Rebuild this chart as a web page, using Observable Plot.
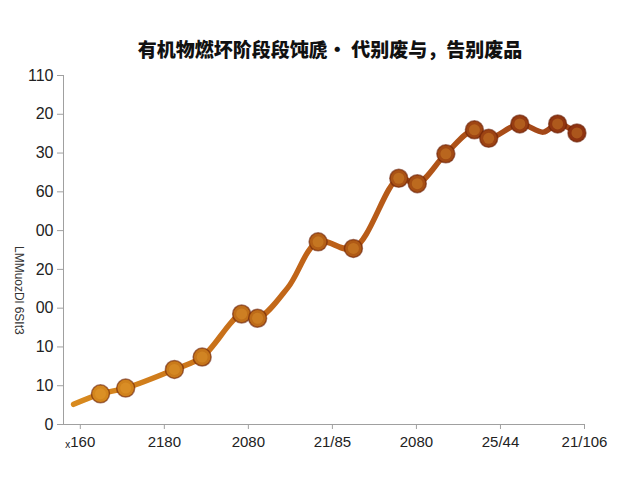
<!DOCTYPE html>
<html><head><meta charset="utf-8">
<script src="https://cdn.jsdelivr.net/npm/d3@7"></script>
<script src="https://cdn.jsdelivr.net/npm/@observablehq/plot@0.6"></script>
<style>body{margin:0;background:#fff}</style>
</head><body><div id="chart"></div>
<script>
const title = "有机物燃坏阶段段饨虒· 代别废与，告别废品";
const yLabel = "LMMuozDl 6SIt3";
const xTickValues = [0, 1, 2, 3, 4, 5, 6];
const xTickLabels = ["ₓ160", "2180", "2080", "21/85", "2080", "25/44", "21/106"];
const yTickValues = [0, 10, 20, 30, 40, 50, 60, 70, 80, 90];
const yTickLabels = ["0", "10", "10", "00", "20", "00", "60", "30", "20", "110"];

// path of the curve (all vertices)
const lineX = [-0.08, 0.24, 0.54, 1.12, 1.45, 1.92, 2.11, 2.47, 2.83, 3.25, 3.79, 4.01, 4.35, 4.69, 4.86, 5.23, 5.51, 5.68, 5.91];
const lineY = [5.2, 7.9, 9.4, 14.2, 17.4, 28.5, 27.4, 35.3, 47.1, 45.4, 63.5, 62.1, 69.8, 76.0, 73.8, 77.5, 75.4, 77.5, 75.2];
// marked points
const markX = [0.24, 0.54, 1.12, 1.45, 1.92, 2.11, 2.83, 3.25, 3.79, 4.01, 4.35, 4.69, 4.86, 5.23, 5.68, 5.91];
const markY = [7.9, 9.4, 14.2, 17.4, 28.5, 27.4, 47.1, 45.4, 63.5, 62.1, 69.8, 76.0, 73.8, 77.5, 77.5, 75.2];

const line = lineX.map((x, i) => ({x, y: lineY[i]}));
const marks = markX.map((x, i) => ({x, y: markY[i]}));

const defs = () => {
  const d = d3.create("svg:defs");
  const g = d.append("linearGradient").attr("id", "lineGrad");
  g.append("stop").attr("offset", "0%").attr("stop-color", "#d88a1e");
  g.append("stop").attr("offset", "45%").attr("stop-color", "#c06418");
  g.append("stop").attr("offset", "100%").attr("stop-color", "#a04418");
  return d.node();
};

const chart = Plot.plot({
  width: 640,
  height: 480,
  marginTop: 75,
  marginBottom: 56,
  marginLeft: 63,
  marginRight: 56,
  style: {fontFamily: "Liberation Sans, Arial, sans-serif", background: "#fff"},
  x: {domain: [-0.2, 6]},
  y: {domain: [0, 90]},
  color: {type: "linear", domain: [0, 6], range: ["#d68a1e", "#8e3210"]},
  marks: [
    defs,
    Plot.ruleY([0], {stroke: "#a0a0a0", strokeWidth: 1}),
    Plot.ruleX([-0.2], {stroke: "#a0a0a0", strokeWidth: 1}),
    Plot.axisY({ticks: yTickValues, tickFormat: d => yTickLabels[d / 10], tickSize: 6, tickPadding: 4, fontSize: 16, stroke: "#a0a0a0", fill: "#222", label: null}),
    Plot.axisX({ticks: xTickValues, tickFormat: d => xTickLabels[d], tickSize: 5, tickPadding: 7, fontSize: 15, stroke: "#a0a0a0", fill: "#222", label: null}),
    Plot.line(line, {x: "x", y: "y", curve: "catmull-rom", stroke: "url(#lineGrad)", strokeWidth: 5.5, strokeLinecap: "round"}),
    Plot.dot(marks, {x: "x", y: "y", r: 9, fill: "x", stroke: "#6a2006", strokeOpacity: 0.6, strokeWidth: 1.5}),
    Plot.dot(marks, {x: "x", y: "y", r: 5.5, fill: "#f0a838", fillOpacity: 0.3}),
    Plot.text([title], {frameAnchor: "top", dy: -32, dx: 6, fontSize: 19, fontWeight: 900, fontFamily: "Noto Sans CJK SC", fill: "#111"}),
    Plot.text([yLabel], {frameAnchor: "left", dx: -45, dy: -4, rotate: 90, fontSize: 12, fill: "#333"})
  ]
});
document.getElementById("chart").append(chart);
</script>
</body></html>
